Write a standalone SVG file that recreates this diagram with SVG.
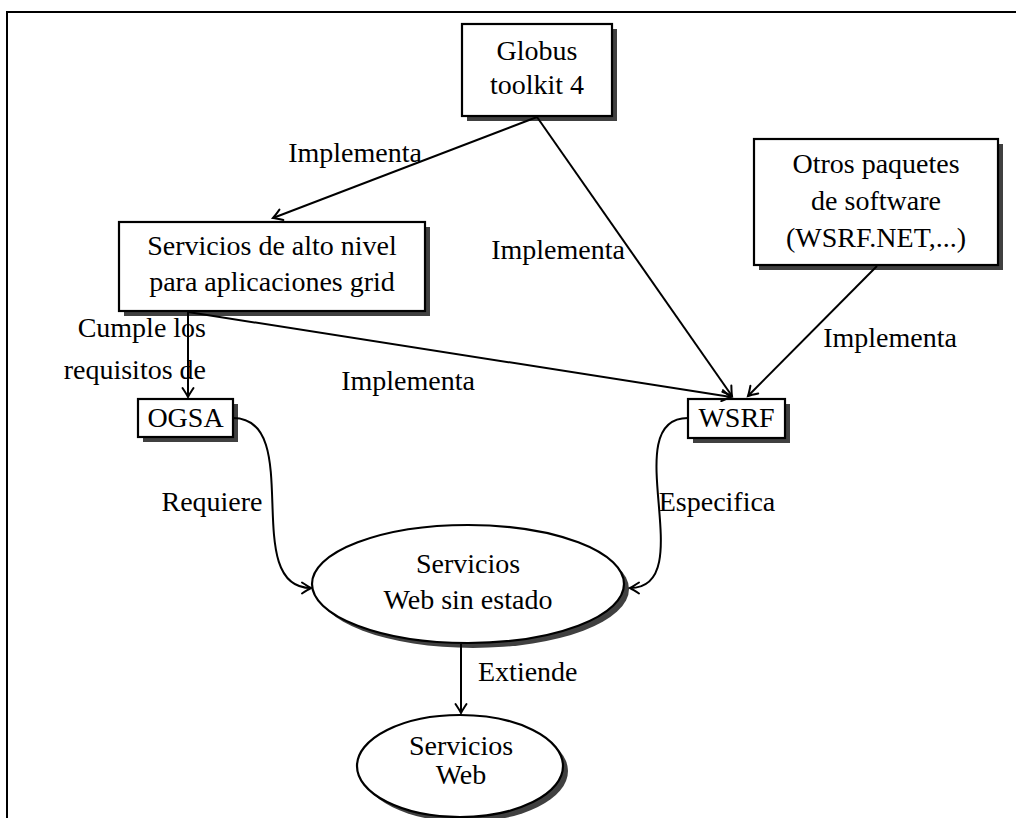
<svg xmlns="http://www.w3.org/2000/svg" width="1016" height="818" viewBox="0 0 1016 818">
<style>
text{font-family:"Liberation Serif","Times New Roman",serif;font-size:28px;fill:#000;text-anchor:middle}
.box{fill:#fff;stroke:#000;stroke-width:2.2}
.sh{fill:#404040;stroke:none}
.c{fill:none;stroke:#000;stroke-width:2}
</style>
<defs>
<marker id="ah" markerUnits="userSpaceOnUse" markerWidth="16" markerHeight="14" refX="0" refY="0" viewBox="-10 -7 12 14" orient="auto" overflow="visible">
<path d="M-9,-5.5 Q-3,-1.5 0,0 Q-3,1.5 -9,5.5" fill="none" stroke="#000" stroke-width="2" stroke-linecap="round"/>
</marker>
</defs>
<rect x="7" y="12" width="1100" height="900" fill="none" stroke="#000" stroke-width="2"/>

<g id="globus">
<rect class="sh" x="467" y="29" width="150" height="92"/>
<rect class="box" x="462" y="24" width="150" height="92"/>
<text x="537" y="60">Globus</text>
<text x="537" y="94">toolkit 4</text>
</g>

<g id="servicios-alto">
<rect class="sh" x="124" y="227" width="306" height="89"/>
<rect class="box" x="119" y="222" width="306" height="89"/>
<text x="272" y="255">Servicios de alto nivel</text>
<text x="272" y="291">para aplicaciones grid</text>
</g>

<g id="otros">
<rect class="sh" x="759" y="144" width="244" height="126"/>
<rect class="box" x="754" y="139" width="244" height="126"/>
<text x="876" y="173">Otros paquetes</text>
<text x="876" y="210">de software</text>
<text x="876" y="247">(WSRF.NET,...)</text>
</g>

<g id="ogsa">
<rect class="sh" x="143" y="404" width="95" height="38"/>
<rect class="box" x="138" y="399" width="95" height="38"/>
<text x="185.5" y="427">OGSA</text>
</g>

<g id="wsrf">
<rect class="sh" x="693" y="404" width="97" height="39"/>
<rect class="box" x="688" y="399" width="97" height="39"/>
<text x="736.5" y="427">WSRF</text>
</g>

<g id="ws-sin-estado">
<ellipse class="sh" cx="473" cy="589" rx="156" ry="59"/>
<ellipse class="box" cx="468" cy="584" rx="156" ry="59"/>
<text x="468" y="573">Servicios</text>
<text x="468" y="609">Web sin estado</text>
</g>

<g id="ws">
<ellipse class="sh" cx="465" cy="771" rx="103" ry="51"/>
<ellipse class="box" cx="460" cy="766" rx="103" ry="51"/>
<text x="461" y="755">Servicios</text>
<text x="461" y="784">Web</text>
</g>

<g id="connectors">
<path class="c" d="M537,117 L273,218" marker-end="url(#ah)"/>
<path class="c" d="M537,117 L732,396" marker-end="url(#ah)"/>
<path class="c" d="M877,266 L748,396" marker-end="url(#ah)"/>
<path class="c" d="M188,312 L188,397" marker-end="url(#ah)"/>
<path class="c" d="M188,312 L731,397" marker-end="url(#ah)"/>
<path class="c" d="M233,418 C306,418 239,588 311,588" marker-end="url(#ah)"/>
<path class="c" d="M688,418 C615,418 702,588 630,588" marker-end="url(#ah)"/>
<path class="c" d="M461,644 L461,713" marker-end="url(#ah)"/>
<text x="355" y="162">Implementa</text>
<text x="558" y="259">Implementa</text>
<text x="890" y="347">Implementa</text>
<text x="408" y="390">Implementa</text>
<text x="206" y="337" style="text-anchor:end">Cumple los</text>
<text x="206" y="379" style="text-anchor:end">requisitos de</text>
<text x="212" y="511">Requiere</text>
<text x="717" y="511">Especifica</text>
<text x="478" y="681" style="text-anchor:start">Extiende</text>
</g>
</svg>
